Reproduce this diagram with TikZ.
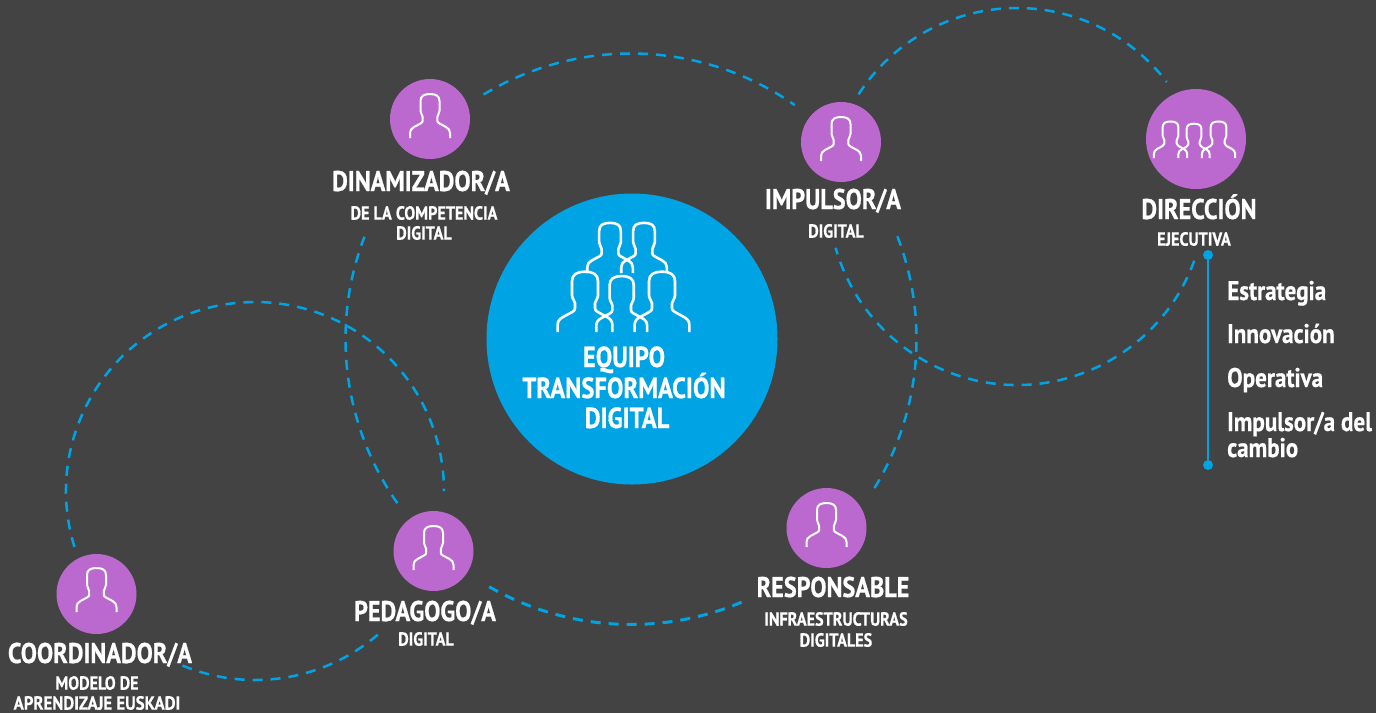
\documentclass[tikz,border=0pt]{standalone}
\usepackage{fontspec}
\newfontfamily\cond{PT Sans}[FakeStretch=0.85,FakeBold=0.6]
\newfontfamily\condl{PT Sans}[FakeStretch=0.855,FakeBold=0.5]
\definecolor{bgc}{HTML}{434343}
\definecolor{bluec}{HTML}{00A4E4}
\definecolor{purp}{HTML}{BC69CF}
\tikzset{
  x=1pt,y=-1pt,
  disc/.style={circle,fill=purp,inner sep=0pt,minimum size=80pt},
  lab/.style={inner sep=0pt,text=white,text height=20pt,text depth=0pt,font=\cond\bfseries\fontsize{28.5}{30}\selectfont},
  mainlab/.style={lab,font=\cond\bfseries\fontsize{29}{30}\selectfont},
  sublab/.style={lab,text height=13.3pt,font=\cond\bfseries\fontsize{19}{20}\selectfont},
  listlab/.style={lab,anchor=west,text height=18pt,font=\condl\bfseries\fontsize{27}{28}\selectfont},
  dashline/.style={bluec,line width=2.5pt,dash pattern=on 10pt off 8pt},
  person/.pic={
    \draw[white,line width=\pgfkeysvalueof{/tikz/personlw},line cap=butt,line join=round]
      (-20,0) -- (-20,-5) .. controls (-20,-8) and (-18.5,-9.5) .. (-16,-11) -- (-9.5,-14.5)
      .. controls (-7.8,-15.5) and (-7.3,-16) .. (-7.3,-17.5) -- (-7.3,-21)
      .. controls (-7.3,-23) and (-9.5,-24) .. (-9.5,-27) -- (-9.5,-37)
      .. controls (-9.5,-42) and (-6,-44) .. (0,-44)
      .. controls (6,-44) and (9.5,-42) .. (9.5,-37) -- (9.5,-27)
      .. controls (9.5,-24) and (7.3,-23) .. (7.3,-21) -- (7.3,-17.5)
      .. controls (7.3,-16) and (7.8,-15.5) .. (9.5,-14.5) -- (16,-11)
      .. controls (18.5,-9.5) and (20,-8) .. (20,-5) -- (20,0);
  },
  personlw/.initial=2pt
}
\begin{document}
\begin{tikzpicture}
\fill[bgc] (0,0) rectangle (1376,713);
\useasboundingbox (0,0) rectangle (1376,713);
% arc centres
\coordinate (cA) at (1017,196.5);
\coordinate (cB) at (631,339);
\coordinate (cC) at (255,491);
% dashed arcs
\draw[dashline] ([shift={(-147.2:188.5)}]cA) arc (-147.2:-37.4:188.5);
\draw[dashline] ([shift={(19.9:188.5)}]cA) arc (19.9:164.2:188.5);
\draw[dashline] ([shift={(-121.1:285.5)}]cB) arc (-121.1:-55:285.5);
\draw[dashline] ([shift={(-21.1:285.5)}]cB) arc (-21.1:31.6:285.5);
\draw[dashline,line width=3pt] ([shift={(67.2:285.5)}]cB) arc (67.2:121.3:285.5);
\draw[dashline] ([shift={(144.9:285.5)}]cB) arc (144.9:201:285.5);
\draw[dashline] ([shift={(162.8:189)}]cC) arc (162.8:360:189);
\draw[dashline] ([shift={(49.5:189)}]cC) arc (49.5:115:189);
% discs
\node[circle,fill=bluec,inner sep=0pt,minimum size=291pt] (main) at (632,339) {};
\node[disc] (dina) at (430,119) {};
\node[disc] (impu) at (841,142) {};
\node[disc,minimum size=100pt] (dire) at (1196,139) {};
\node[disc] (peda) at (433.5,551) {};
\node[disc] (resp) at (826.5,528) {};
\node[disc] (coor) at (96.5,594) {};
% icons
\pic at (430,138) {person};
\pic at (841,161) {person};
\pic at (433.5,570) {person};
\pic at (826.5,547) {person};
\pic at (96.5,612) {person};
\pic[scale=.83] at (1170.5,158) {person};
\pic[scale=.78] at (1194,158) {person};
\pic[scale=.83] at (1218.5,158) {person};
\begin{scope}[personlw=2.6pt]
\pic[scale=1.14] at (610,273) {person};
\pic[scale=1.14] at (644,273) {person};
\pic[scale=1.37] at (585,332) {person};
\pic[scale=1.27] at (621.7,332) {person};
\pic[scale=1.37] at (662,332) {person};
\end{scope}
% labels
\node[mainlab] (t1) at (624,357) {EQUIPO};
\node[mainlab] (t2) at (624,388) {TRANSFORMACIÓN};
\node[mainlab] (t3) at (627,418) {DIGITAL};
\node[lab] (l1) at (421,181) {DINAMIZADOR/A};
\node[sublab] (l1a) at (424,213) {DE LA COMPETENCIA};
\node[sublab] (l1b) at (424,233) {DIGITAL};
\node[lab] (l2) at (833,199) {IMPULSOR/A};
\node[sublab] (l2a) at (836,231) {DIGITAL};
\node[lab] (l3) at (1199,209) {DIRECCIÓN};
\node[sublab] (l3a) at (1194,239) {EJECUTIVA};
\node[lab] (l4) at (425,611) {PEDAGOGO/A};
\node[sublab] (l4a) at (426,639) {DIGITAL};
\node[lab] (l5) at (833,587) {RESPONSABLE};
\node[sublab] (l5a) at (836,619) {INFRAESTRUCTURAS};
\node[sublab] (l5b) at (836,640) {DIGITALES};
\node[lab] (l6) at (100,653) {COORDINADOR/A};
\node[sublab] (l6a) at (97,683) {MODELO DE};
\node[sublab,xscale=1.04] (l6b) at (97,703) {APRENDIZAJE EUSKADI};
% list
\node[circle,fill=bluec,inner sep=0pt,minimum size=10pt] (d1) at (1208,255) {};
\node[circle,fill=bluec,inner sep=0pt,minimum size=10pt] (d2) at (1208,465) {};
\draw[bluec,line width=2.5pt] (d1) -- (d2);
\node[listlab] (b1) at (1227,291) {Estrategia};
\node[listlab] (b2) at (1227,334) {Innovación};
\node[listlab] (b3) at (1227,378) {Operativa};
\node[listlab] (b4) at (1227,422) {Impulsor/a del};
\node[listlab] (b5) at (1227,448) {cambio};
\end{tikzpicture}
\end{document}
